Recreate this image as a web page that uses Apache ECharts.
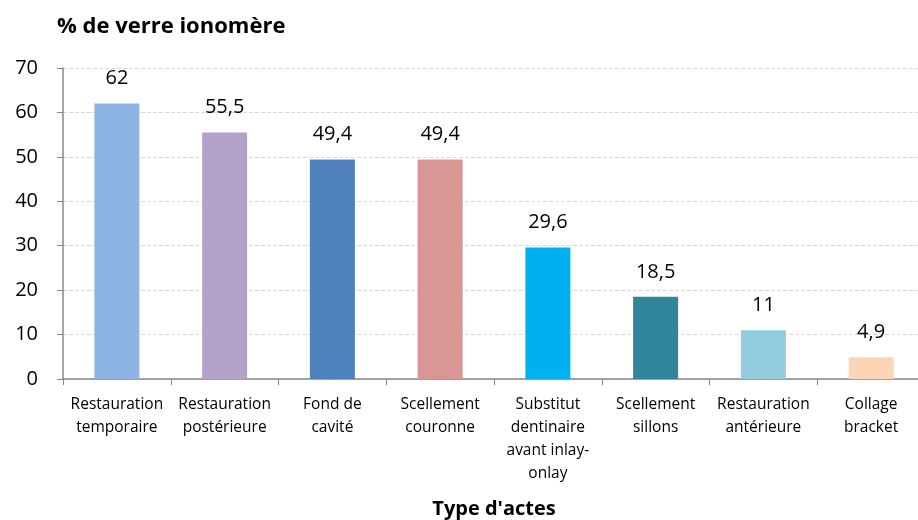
<!DOCTYPE html>
<html><head><meta charset="utf-8">
<script src="https://cdn.jsdelivr.net/npm/echarts@6/dist/echarts.min.js"></script>
<style>html,body{margin:0;padding:0;background:#fff}#c{width:918px;height:520px}</style>
</head><body><div id="c"></div>
<script>
const categories = ["Restauration\ntemporaire","Restauration\npostérieure","Fond de\ncavité","Scellement\ncouronne","Substitut\ndentinaire\navant inlay-\nonlay","Scellement\nsillons","Restauration\nantérieure","Collage\nbracket"];
const values = [62, 55.5, 49.4, 49.4, 29.6, 18.5, 11, 4.9];
const colors = ["#8EB4E3","#B3A2C7","#4F81BD","#D99694","#00B0F0","#31859C","#93CDDD","#FCD5B5"];
const yTicks = [0,10,20,30,40,50,60,70];
const font = "'Open Sans', 'Noto Sans', sans-serif";
const chart = echarts.init(document.getElementById('c'));
chart.setOption({
  animation: false,
  title: {text: "% de verre ionomère", left: 52, top: 11, textStyle:{fontFamily: font, fontSize: 22, fontWeight: 'bold', color:'#000'}},
  grid: {left: 63, right: -7, top: 68, bottom: 141, containLabel: false, outerBoundsMode: 'none'},
  xAxis: {
    type: 'category', data: categories,
    name: "Type d'actes", nameLocation: 'middle', nameGap: 120,
    nameTextStyle: {fontFamily: font, fontSize: 20, fontWeight: 'bold', color:'#000'},
    axisLine: {lineStyle:{color:'#888', width: 1.5}},
    axisTick: {show: true, length: 6, lineStyle:{color:'#888'}},
    axisLabel: {interval: 0, fontFamily: font, fontSize: 15.5, color:'#000', lineHeight: 23, margin: 14}
  },
  yAxis: {
    type: 'value', min: 0, max: 70, interval: 10,
    axisLine: {show: true, lineStyle:{color:'#888', width: 1.5}},
    axisTick: {show: true, length: 6, lineStyle:{color:'#888'}},
    axisLabel: {fontFamily: font, fontSize: 20, color:'#000', margin: 25,
      formatter: v => yTicks.includes(v) ? String(v) : ''},
    splitLine: {show: true, lineStyle:{color:'#d9d9d9', type:'dashed'}}
  },
  series: [{
    type: 'bar', barWidth: 45,
    data: values.map((v,i)=>({value: v, itemStyle:{color: colors[i]}})),
    label: {show: true, position: 'top', distance: 15, fontFamily: font, fontSize: 20, color:'#000',
      formatter: p => String(p.value).replace('.', ',')}
  }]
});
</script></body></html>
